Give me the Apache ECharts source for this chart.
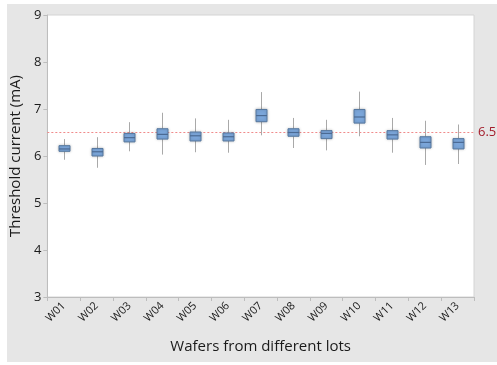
<!DOCTYPE html>
<html>
<head>
<meta charset="utf-8">
<script src="https://cdn.jsdelivr.net/npm/echarts@6/dist/echarts.min.js"></script>
<style>
  html, body { margin: 0; padding: 0; background: #ffffff; }
  #chart { width: 497px; height: 365px; }
</style>
</head>
<body>
<div id="chart"></div>
<script>
// Threshold current per wafer (mA): five-number summaries
const wafers  = ['W01','W02','W03','W04','W05','W06','W07','W08','W09','W10','W11','W12','W13'];
const mins    = [5.92, 5.75, 6.10, 6.03, 6.08, 6.07, 6.44, 6.17, 6.12, 6.42, 6.07, 5.81, 5.83];
const q1s     = [6.10, 6.00, 6.30, 6.36, 6.32, 6.32, 6.73, 6.42, 6.37, 6.70, 6.36, 6.17, 6.15];
const medians = [6.15, 6.09, 6.39, 6.46, 6.43, 6.41, 6.86, 6.50, 6.48, 6.83, 6.45, 6.29, 6.29];
const q3s     = [6.22, 6.16, 6.48, 6.58, 6.51, 6.49, 6.99, 6.58, 6.54, 6.99, 6.54, 6.41, 6.37];
const maxs    = [6.36, 6.40, 6.72, 6.92, 6.80, 6.77, 7.36, 6.81, 6.77, 7.37, 6.81, 6.75, 6.67];
const yTicks  = [3, 9, 1];          // min, max, step
const specLimit = 6.5;

const boxRows = wafers.map((_, i) => [i, mins[i], q1s[i], medians[i], q3s[i], maxs[i]]);

const txt = '#1a1a1a';
const font = '"Open Sans", "Noto Sans", sans-serif';
const BOX_W = 11;

// Box with grey whiskers, blue body and a darker median bar
function renderBox(params, api) {
  const idx = api.value(0);
  const pMin = api.coord([idx, api.value(1)]);
  const pQ1  = api.coord([idx, api.value(2)]);
  const pMed = api.coord([idx, api.value(3)]);
  const pQ3  = api.coord([idx, api.value(4)]);
  const pMax = api.coord([idx, api.value(5)]);
  const cx = Math.round(pMed[0]) + 0.5;
  const half = BOX_W / 2;
  return {
    type: 'group',
    children: [
      { type: 'line', shape: { x1: cx, y1: pMax[1], x2: cx, y2: pQ3[1] },
        style: { stroke: '#a9a9a9', lineWidth: 1 } },
      { type: 'line', shape: { x1: cx, y1: pQ1[1], x2: cx, y2: pMin[1] },
        style: { stroke: '#a9a9a9', lineWidth: 1 } },
      { type: 'rect',
        shape: { x: cx - half, y: pQ3[1], width: BOX_W, height: pQ1[1] - pQ3[1] },
        style: { fill: '#7ba6da', stroke: '#56789f', lineWidth: 1,
                 shadowColor: 'rgba(0,0,0,0.22)', shadowBlur: 3 } },
      { type: 'line', shape: { x1: cx - half, y1: pMed[1], x2: cx + half, y2: pMed[1] },
        style: { stroke: '#4b6a93', lineWidth: 1.2 } }
    ]
  };
}

const chart = echarts.init(document.getElementById('chart'), null, { renderer: 'canvas' });
chart.setOption({
  animation: false,
  textStyle: { fontFamily: font },
  graphic: [{
    type: 'rect', z: -10, silent: true,
    shape: { x: 7, y: 4, width: 490, height: 358 },
    style: { fill: '#e6e6e6' }
  }],
  grid: {
    left: 44, right: 23, top: 15, bottom: 68,
    show: true, backgroundColor: '#ffffff', borderColor: '#d4d4d4', borderWidth: 1
  },
  xAxis: {
    type: 'category',
    data: wafers,
    boundaryGap: true,
    name: 'Wafers from different lots',
    nameLocation: 'middle',
    nameGap: 42,
    nameTextStyle: { fontSize: 15, color: txt, fontFamily: font },
    axisLine: { lineStyle: { color: '#bdbdbd', width: 1 } },
    axisTick: { show: true, length: 4, lineStyle: { color: '#bdbdbd' } },
    axisLabel: { rotate: 45, fontSize: 11, color: txt, margin: 7, fontFamily: font },
    splitLine: { show: false }
  },
  yAxis: {
    type: 'value',
    min: yTicks[0], max: yTicks[1], interval: yTicks[2],
    name: 'Threshold current (mA)',
    nameLocation: 'middle',
    nameGap: 20,
    nameTextStyle: { fontSize: 15, color: txt, fontFamily: font },
    axisLine: { show: true, lineStyle: { color: '#bdbdbd', width: 1 } },
    axisTick: { show: true, length: 4, lineStyle: { color: '#bdbdbd' } },
    axisLabel: { fontSize: 13, color: txt, margin: 6, fontFamily: font },
    splitLine: { show: false }
  },
  series: [
    {
      name: 'Threshold current',
      type: 'custom',
      renderItem: renderBox,
      encode: { x: 0, y: [1, 2, 3, 4, 5] },
      data: boxRows,
      z: 3,
      markLine: {
        silent: true,
        symbol: 'none',
        z: 2,
        data: [{ yAxis: specLimit }],
        lineStyle: { color: '#f08a8a', type: [2, 2], width: 1 },
        label: {
          position: 'end', formatter: String(specLimit),
          color: '#a31d2b', fontSize: 13, distance: 4, fontFamily: font
        }
      }
    }
  ]
});
</script>
</body>
</html>
